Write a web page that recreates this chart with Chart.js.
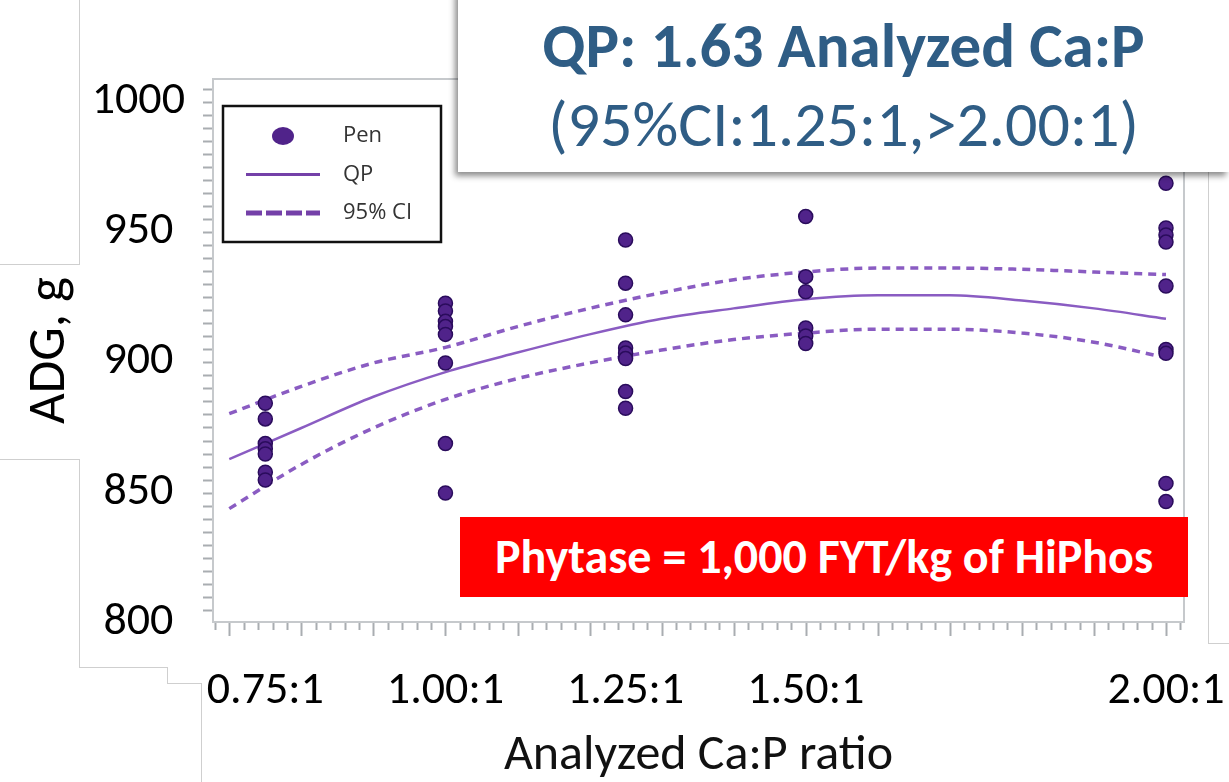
<!DOCTYPE html>
<html lang="en">
<head>
<meta charset="UTF-8">
<title>ADG by Analyzed Ca:P ratio</title>
<script src="https://cdn.jsdelivr.net/npm/chart.js"></script>
<style>
  body { margin: 0; background: #fff; }
  #wrap { position: relative; width: 1229px; height: 782px; overflow: hidden; font-family: Carlito, Lato, "Open Sans", sans-serif; }
  #chart { position: absolute; left: 0; top: 0; }
  .edge { position: absolute; background: #cfcfcf; }
  #qpBox { position: absolute; left: 458px; top: -10px; width: 771px; height: 182px; background: #fff;
           box-shadow: -3px 4px 6px rgba(0,0,0,0.45); color: #2f5d85; text-align: center; }
  #qpBox .l1 { position: absolute; left: 0; right: 0; top: 19px; font-weight: bold; font-size: 63px; line-height: 74px; }
  #qpBox .l2 { position: absolute; left: 0; right: 0; top: 97px; font-size: 64px; line-height: 74px; }
  #phytase { position: absolute; left: 460px; top: 517px; width: 728px; height: 80px; background: #ff0000;
             color: #fff; font-weight: bold; font-size: 48px; line-height: 80px; text-align: center; }
</style>
</head>
<body>
<div id="wrap">
  <canvas id="chart" width="1229" height="782"></canvas>

  <!-- edges of the pasted label panels -->
  <div class="edge" style="left:79px; top:0; width:1px; height:264px;"></div>
  <div class="edge" style="left:0; top:264px; width:80px; height:1px;"></div>
  <div class="edge" style="left:0; top:459px; width:80px; height:1px;"></div>
  <div class="edge" style="left:79px; top:459px; width:1px; height:208px;"></div>
  <div class="edge" style="left:79px; top:667px; width:89px; height:1px;"></div>
  <div class="edge" style="left:167px; top:667px; width:1px; height:17px;"></div>
  <div class="edge" style="left:167px; top:683px; width:35px; height:1px;"></div>
  <div class="edge" style="left:201px; top:683px; width:1px; height:99px;"></div>
  <div class="edge" style="left:1208px; top:170px; width:1px; height:473px;"></div>
  <div class="edge" style="left:1208px; top:643px; width:21px; height:1px;"></div>

  <div id="qpBox">
    <div class="l1">QP: 1.63 Analyzed Ca:P</div>
    <div class="l2">(95%CI:1.25:1,&gt;2.00:1)</div>
  </div>
  <div id="phytase">Phytase = 1,000 FYT/kg of HiPhos</div>
</div>

<script>
  // x axis: analyzed Ca:P ratio
  const ratioTicks = [0.75, 1.00, 1.25, 1.50, 2.00];
  const ratioLabels = ['0.75:1', '1.00:1', '1.25:1', '1.50:1', '2.00:1'];

  // pen ADG (g) at each ratio
  const pens075 = [879.5, 873.5, 864, 862, 860, 853, 850];
  const pens100 = [918, 915, 911, 909, 906, 895, 864, 845];
  const pens125 = [942.3, 925.7, 913.5, 900.8, 898.8, 896.7, 884, 877.6];
  const pens150 = [951.3, 928.2, 922.4, 908.5, 905.4, 902.5];
  const pens200 = [964.1, 946.9, 944.2, 941.5, 924.6, 900.2, 898.7, 848.7, 841.7];

  // quadratic fit and its 95% band, read along the ratio axis
  const curveX  = [0.70, 0.80, 0.90, 1.00, 1.10, 1.20, 1.30, 1.40, 1.50, 1.60, 1.70, 1.80, 1.90, 2.00];
  const qpFit   = [858, 870, 882, 891.5, 899, 906, 912, 916, 919.5, 921, 921, 919, 916, 912];
  const ciUpper = [875.5, 886, 895, 901, 909, 916, 922, 927, 930, 931.5, 931.5, 931, 930, 929];
  const ciLower = [839, 856, 870, 881, 889, 895, 900, 904, 906.5, 908, 908, 906.5, 903, 897];

  const penGroups = [pens075, pens100, pens125, pens150, pens200];
  const penPoints = [];
  penGroups.forEach((g, i) => g.forEach(v => penPoints.push({ x: ratioTicks[i], y: v })));

  const toXY = arr => curveX.map((x, i) => ({ x: x, y: arr[i] }));

  const dotFill = '#50238a';
  const dotEdge = '#2a0c5c';
  const lineCol = '#8a5cc2';
  const labelFont = 'Carlito, Lato, sans-serif';

  // plot frame and the bottom tick marks (minor every 0.02, major every 0.1)
  const framePlugin = {
    id: 'frame',
    beforeDatasetsDraw(chart) {
      const { ctx, chartArea: a, scales } = chart;
      ctx.save();
      ctx.strokeStyle = '#c6c9cc';
      ctx.lineWidth = 2;
      ctx.strokeRect(a.left, a.top, a.right - a.left, a.bottom - a.top);
      ctx.strokeStyle = '#a9adb1';
      for (let k = 34; k <= 101; k++) {
        const px = Math.round(scales.x.getPixelForValue(k * 0.02)) + 0.5;
        const len = (k % 5 === 0) ? 13 : 7;
        ctx.beginPath();
        ctx.moveTo(px, a.bottom + 1);
        ctx.lineTo(px, a.bottom + 1 + len);
        ctx.stroke();
      }
      ctx.restore();
    }
  };

  // boxed legend in the upper left of the plot
  const boxLegend = {
    id: 'boxLegend',
    afterDraw(chart) {
      const { ctx, chartArea: a } = chart;
      const x0 = a.left + 10, y0 = a.top + 27, w = 218, h = 136;
      ctx.save();
      ctx.strokeStyle = '#111';
      ctx.lineWidth = 2.5;
      ctx.strokeRect(x0, y0, w, h);
      ctx.font = '22px "Open Sans", sans-serif';
      ctx.textBaseline = 'middle';
      const seen = new Set();
      let row = 0;
      chart.data.datasets.forEach(ds => {
        if (seen.has(ds.label)) return;
        seen.add(ds.label);
        const cy = y0 + 30 + row * 38.5;
        if (ds.showLine === false) {
          ctx.fillStyle = ds.backgroundColor;
          ctx.beginPath();
          ctx.ellipse(x0 + 60, cy, 11, 9, 0, 0, Math.PI * 2);
          ctx.fill();
        } else {
          ctx.strokeStyle = '#7440a8';
          ctx.lineWidth = ds.borderDash ? 5 : 3;
          ctx.setLineDash(ds.borderDash ? [16, 4] : []);
          ctx.beginPath();
          ctx.moveTo(x0 + 23, cy);
          ctx.lineTo(x0 + 97, cy);
          ctx.stroke();
          ctx.setLineDash([]);
        }
        ctx.fillStyle = '#333';
        ctx.fillText(ds.label, x0 + 120, cy);
        row++;
      });
      ctx.restore();
    }
  };

  new Chart(document.getElementById('chart'), {
    type: 'scatter',
    data: {
      datasets: [
        {
          label: 'Pen',
          data: penPoints,
          showLine: false,
          pointRadius: 7,
          pointBackgroundColor: dotFill,
          backgroundColor: dotFill,
          pointBorderColor: dotEdge,
          pointBorderWidth: 1.5,
          order: 0
        },
        {
          type: 'line',
          label: 'QP',
          data: toXY(qpFit),
          borderColor: lineCol,
          borderWidth: 2.5,
          pointRadius: 0,
          fill: false,
          cubicInterpolationMode: 'monotone',
          order: 1
        },
        {
          type: 'line',
          label: '95% CI',
          data: toXY(ciUpper),
          borderColor: lineCol,
          borderWidth: 3.5,
          borderDash: [8, 6],
          pointRadius: 0,
          fill: false,
          cubicInterpolationMode: 'monotone',
          order: 1
        },
        {
          type: 'line',
          label: '95% CI',
          data: toXY(ciLower),
          borderColor: lineCol,
          borderWidth: 3.5,
          borderDash: [8, 6],
          pointRadius: 0,
          fill: false,
          cubicInterpolationMode: 'monotone',
          order: 1
        }
      ]
    },
    options: {
      responsive: false,
      animation: false,
      layout: { padding: { top: 79, right: 45, left: 0, bottom: 0 } },
      plugins: { legend: { display: false }, tooltip: { enabled: false } },
      scales: {
        x: {
          type: 'linear',
          min: 0.6774,
          max: 2.025,
          afterBuildTicks: s => { s.ticks = ratioTicks.map(v => ({ value: v })); },
          afterFit: s => { s.height = 160; s.paddingLeft = 0; s.paddingRight = 0; },
          grid: { display: false, drawTicks: false },
          border: { display: false },
          ticks: {
            autoSkip: false,
            maxRotation: 0,
            padding: 42,
            labelOffset: 0,
            color: '#000',
            font: { family: labelFont, size: 46 },
            callback: (v, i) => ratioLabels[i]
          },
          title: {
            display: true,
            text: 'Analyzed Ca:P ratio',
            color: '#111',
            font: { family: labelFont, size: 50 },
            padding: { top: 0, bottom: -4 }
          }
        },
        y: {
          min: 795.4,
          max: 1004.2,
          afterBuildTicks: s => {
            const t = [];
            for (let v = 800; v <= 1000; v += 5) t.push({ value: v });
            s.ticks = t;
          },
          afterFit: s => { s.width = 213; s.paddingTop = 0; s.paddingBottom = 0; },
          grid: { drawOnChartArea: false, drawTicks: true, tickLength: 10, tickColor: '#a9adb1', tickWidth: 2 },
          border: { display: false },
          ticks: {
            autoSkip: false,
            padding: 18,
            crossAlign: 'center',
            labelOffset: 12,
            color: '#000',
            font: { family: labelFont, size: 46 },
            callback: v => (v % 50 === 0 ? String(v) : '')
          },
          title: {
            display: true,
            text: 'ADG, g',
            color: '#000',
            font: { family: labelFont, size: 53 },
            padding: { top: 19, bottom: 0 }
          }
        }
      }
    },
    plugins: [framePlugin, boxLegend]
  });
</script>
</body>
</html>
